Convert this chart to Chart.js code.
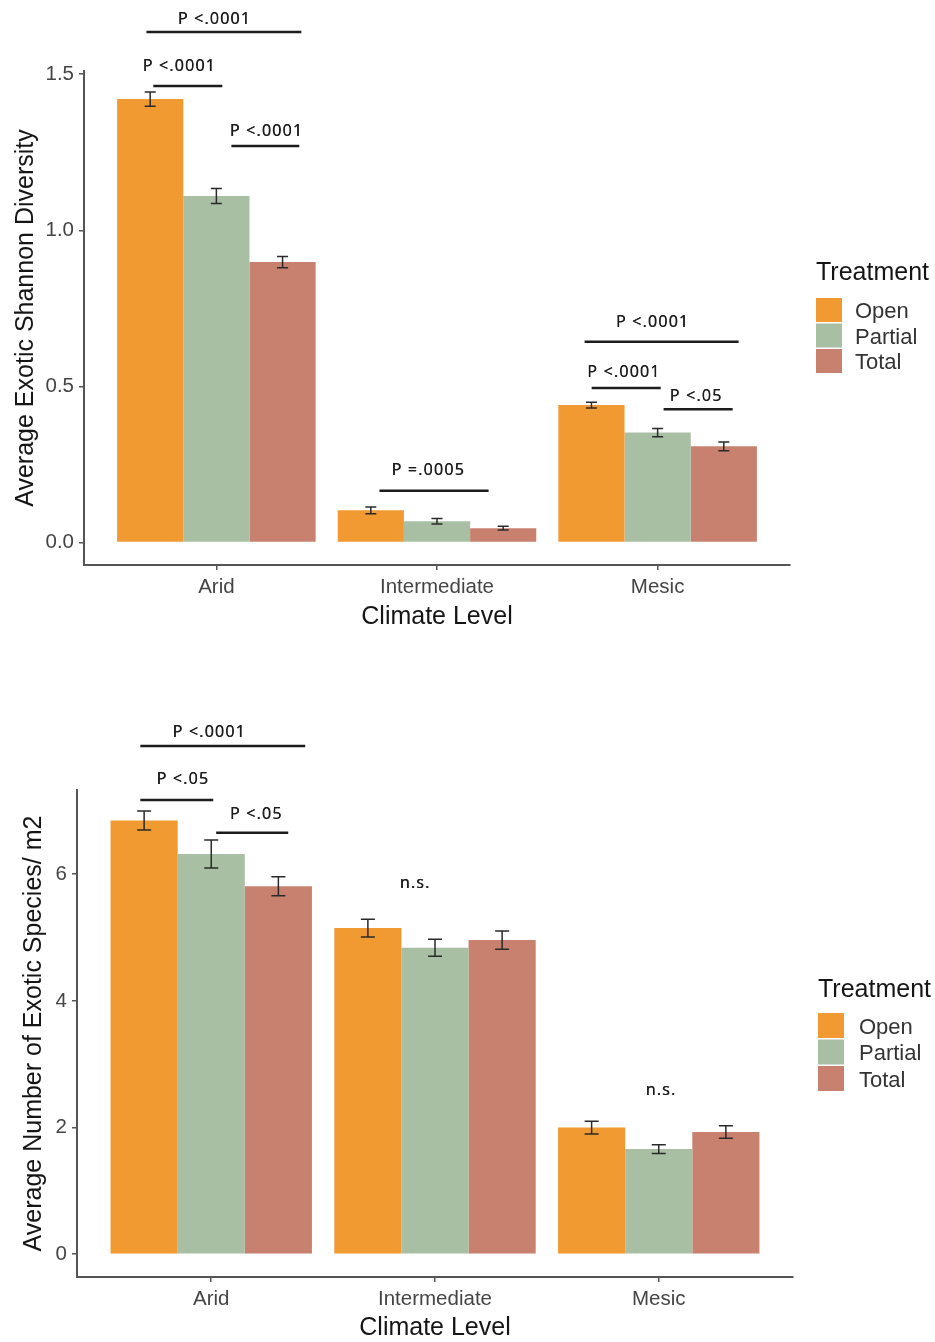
<!DOCTYPE html>
<html>
<head>
<meta charset="utf-8">
<script src="https://cdn.jsdelivr.net/npm/chart.js@4.4.1/dist/chart.umd.min.js"></script>
<style>
  html, body { margin: 0; padding: 0; background: #fff; }
  #wrap { position: relative; width: 935px; height: 1342px; overflow: hidden; }
  canvas { position: absolute; left: 0; }
  #diversity { top: 0; }
  #richness { top: 650px; }
</style>
</head>
<body>
<div id="wrap">
  <canvas id="diversity" width="935" height="650"></canvas>
  <canvas id="richness" width="935" height="692"></canvas>
</div>
<script>
const climateLevels = ['Arid', 'Intermediate', 'Mesic'];
const treatments = ['Open', 'Partial', 'Total'];

// Average exotic Shannon diversity (mean and standard error per climate level)
const diversityOpen = [1.42, 0.103, 0.440];
const diversityPartial = [1.11, 0.068, 0.352];
const diversityTotal = [0.898, 0.046, 0.308];
const diversityOpenSE = [0.023, 0.011, 0.009];
const diversityPartialSE = [0.024, 0.009, 0.013];
const diversityTotalSE = [0.018, 0.006, 0.014];
const diversityTicks = [0, 0.5, 1.0, 1.5];

// Average number of exotic species per m2
const richnessOpen = [6.85, 5.15, 2.00];
const richnessPartial = [6.32, 4.84, 1.66];
const richnessTotal = [5.81, 4.96, 1.93];
const richnessOpenSE = [0.15, 0.14, 0.10];
const richnessPartialSE = [0.22, 0.135, 0.07];
const richnessTotalSE = [0.15, 0.145, 0.10];
const richnessTicks = [0, 2, 4, 6];

// Pairwise comparisons: bracket spans the climate axis (1 = Arid) at a value height,
// with the label placed at (textX, textY) in the same units
const diversityComparisons = [
  { text: 'P <.0001', from: 0.683, to: 1.385, at: 1.635, textX: 0.991, textY: 1.676 },
  { text: 'P <.0001', from: 0.714, to: 1.027, at: 1.462, textX: 0.832, textY: 1.526 },
  { text: 'P <.0001', from: 1.068, to: 1.376, at: 1.270, textX: 1.227, textY: 1.318 },
  { text: 'P =.0005', from: 1.739, to: 2.234, at: 0.166, textX: 1.960, textY: 0.230 },
  { text: 'P <.0001', from: 2.669, to: 3.367, at: 0.643, textX: 2.977, textY: 0.704 },
  { text: 'P <.0001', from: 2.701, to: 3.014, at: 0.495, textX: 2.847, textY: 0.544 },
  { text: 'P <.05',   from: 3.027, to: 3.340, at: 0.427, textX: 3.174, textY: 0.467 }
];
const richnessComparisons = [
  { text: 'P <.0001', from: 0.683, to: 1.420, at: 8.025, textX: 0.991, textY: 8.242 },
  { text: 'P <.05',   from: 0.683, to: 1.009, at: 7.172, textX: 0.873, textY: 7.499 },
  { text: 'P <.05',   from: 1.022, to: 1.344, at: 6.656, textX: 1.201, textY: 6.946 },
  { text: 'n.s.', textX: 1.911, textY: 5.861 },
  { text: 'n.s.', textX: 3.010, textY: 2.580 }
];

const treatmentColors = ['#F19A31', '#A9BFA3', '#C8806F'];
const FONT = '"Liberation Sans", Arial, sans-serif';

function buildDatasets(series, errors) {
  return treatments.map((name, k) => ({
    label: name,
    data: series[k].map((v, i) => ({ x: i + 1, y: v })),
    errors: errors[k],
    backgroundColor: treatmentColors[k],
    borderWidth: 0,
    categoryPercentage: 0.9,
    barPercentage: 1.0
  }));
}

// Vertical error bars with caps, positioned on each bar
const errorBarPlugin = {
  id: 'errorBars',
  afterDatasetsDraw(chart, args, opts) {
    const { ctx } = chart;
    const yScale = chart.scales.y;
    ctx.save();
    ctx.strokeStyle = opts.color;
    ctx.lineWidth = opts.width;
    chart.data.datasets.forEach((ds, di) => {
      const meta = chart.getDatasetMeta(di);
      meta.data.forEach((bar, i) => {
        const v = ds.data[i].y;
        const e = ds.errors[i];
        const yTop = yScale.getPixelForValue(v + e);
        const yBot = yScale.getPixelForValue(v - e);
        const h = opts.cap / 2;
        ctx.beginPath();
        ctx.moveTo(bar.x, yTop); ctx.lineTo(bar.x, yBot);
        ctx.moveTo(bar.x - h, yTop); ctx.lineTo(bar.x + h, yTop);
        ctx.moveTo(bar.x - h, yBot); ctx.lineTo(bar.x + h, yBot);
        ctx.stroke();
      });
    });
    ctx.restore();
  }
};

// Significance brackets and labels
const comparisonPlugin = {
  id: 'comparisons',
  afterDatasetsDraw(chart, args, opts) {
    const { ctx } = chart;
    const xs = chart.scales.x, ys = chart.scales.y;
    const items = chart.config._config.comparisons || [];
    ctx.save();
    ctx.strokeStyle = '#1c1c1c';
    ctx.fillStyle = '#1c1c1c';
    ctx.lineWidth = 2.6;
    ctx.font = '16px "Open Sans", "DejaVu Sans", sans-serif';
    try { ctx.letterSpacing = '1.2px'; } catch (e) {}
    ctx.textAlign = 'center';
    ctx.textBaseline = 'middle';
    items.forEach(c => {
      if (c.from != null) {
        const y = ys.getPixelForValue(c.at);
        ctx.beginPath();
        ctx.moveTo(xs.getPixelForValue(c.from), y);
        ctx.lineTo(xs.getPixelForValue(c.to), y);
        ctx.stroke();
      }
      const tx = xs.getPixelForValue(c.textX), ty = ys.getPixelForValue(c.textY);
      // a light second pass thickens the strokes slightly
      ctx.fillText(c.text, tx, ty);
      ctx.fillText(c.text, tx + 0.4, ty);
    });
    ctx.restore();
  }
};

// Treatment key drawn beside the panel
const keyLegendPlugin = {
  id: 'keyLegend',
  afterDraw(chart, args, o) {
    const { ctx } = chart;
    ctx.save();
    ctx.textAlign = 'left';
    ctx.textBaseline = 'middle';
    ctx.fillStyle = '#151515';
    ctx.font = '25px ' + FONT;
    ctx.fillText(o.title, o.left, o.titleY);
    chart.data.datasets.forEach((ds, i) => {
      const top = o.keyTop + i * o.step;
      ctx.fillStyle = ds.backgroundColor;
      ctx.fillRect(o.left, top, o.keyW, o.keyH);
      ctx.fillStyle = '#333';
      ctx.font = '22px ' + FONT;
      ctx.fillText(ds.label, o.labelX, top + o.keyH / 2 + 2);
    });
    ctx.restore();
  }
};

function makeChart(canvasId, cfg) {
  const tickFont = { family: FONT, size: 20.5 };
  const titleFont = { family: FONT, size: 25, lineHeight: 1.0 };
  const axisColor = '#555';
  const config = {
    type: 'bar',
    data: { datasets: buildDatasets(cfg.series, cfg.errors) },
    comparisons: cfg.comparisons,
    options: {
      responsive: false,
      devicePixelRatio: 1,
      animation: false,
      layout: { padding: cfg.padding },
      plugins: {
        legend: { display: false },
        tooltip: { enabled: false },
        errorBars: { color: '#2a2a2a', width: 1.5, cap: cfg.cap },
        keyLegend: cfg.legend
      },
      scales: {
        x: {
          type: 'linear',
          min: 0.4,
          max: 3.6,
          offset: false,
          afterBuildTicks: s => { s.ticks = climateLevels.map((c, i) => ({ value: i + 1 })); },
          afterFit: s => { s.height = cfg.xHeight; },
          ticks: {
            autoSkip: false, maxRotation: 0, minRotation: 0,
            callback: v => climateLevels[Math.round(v) - 1] || '',
            font: tickFont, color: '#444', padding: 5
          },
          grid: { offset: false, drawOnChartArea: false, drawTicks: true, tickLength: 5, color: axisColor, lineWidth: 1.5 },
          border: { display: true, color: axisColor, width: 2 },
          title: { display: true, text: 'Climate Level', font: titleFont, color: '#151515', padding: { top: 0, bottom: cfg.xTitlePad } }
        },
        y: {
          min: cfg.yMin,
          max: cfg.yMax,
          afterBuildTicks: s => { s.ticks = cfg.ticks.map(v => ({ value: v })); },
          afterFit: s => { s.width = cfg.yWidth; },
          ticks: {
            callback: v => v.toFixed(cfg.decimals),
            font: tickFont, color: '#444', padding: 5
          },
          grid: { drawOnChartArea: false, drawTicks: true, tickLength: 5, color: axisColor, lineWidth: 1.5 },
          border: { display: true, color: axisColor, width: 2 },
          title: { display: true, text: cfg.yTitle, font: titleFont, color: '#151515', padding: { top: cfg.yTitlePad, bottom: 0 } }
        }
      }
    },
    plugins: [errorBarPlugin, comparisonPlugin, keyLegendPlugin]
  };
  return new Chart(document.getElementById(canvasId), config);
}

makeChart('diversity', {
  series: [diversityOpen, diversityPartial, diversityTotal],
  errors: [diversityOpenSE, diversityPartialSE, diversityTotalSE],
  comparisons: diversityComparisons,
  ticks: diversityTicks,
  decimals: 1,
  yMin: -0.072, yMax: 1.51,
  yTitle: 'Average Exotic Shannon Diversity',
  padding: { left: 0, right: 145, top: 71, bottom: 0 },
  yWidth: 84, xHeight: 85,
  yTitlePad: 13.5, xTitlePad: 20.5,
  cap: 11,
  legend: { title: 'Treatment', left: 816, titleY: 273, keyTop: 298, step: 25.5, keyW: 26, keyH: 24, labelX: 855 }
});

makeChart('richness', {
  series: [richnessOpen, richnessPartial, richnessTotal],
  errors: [richnessOpenSE, richnessPartialSE, richnessTotalSE],
  comparisons: richnessComparisons,
  ticks: richnessTicks,
  decimals: 0,
  yMin: -0.36, yMax: 7.33,
  yTitle: 'Average Number of Exotic Species/ m2',
  padding: { left: 0, right: 142, top: 140, bottom: 0 },
  yWidth: 77, xHeight: 65,
  yTitlePad: 21.5, xTitlePad: 1.5,
  cap: 14,
  legend: { title: 'Treatment', left: 818, titleY: 340, keyTop: 363, step: 26.5, keyW: 26, keyH: 25, labelX: 859 }
});
</script>
</body>
</html>
